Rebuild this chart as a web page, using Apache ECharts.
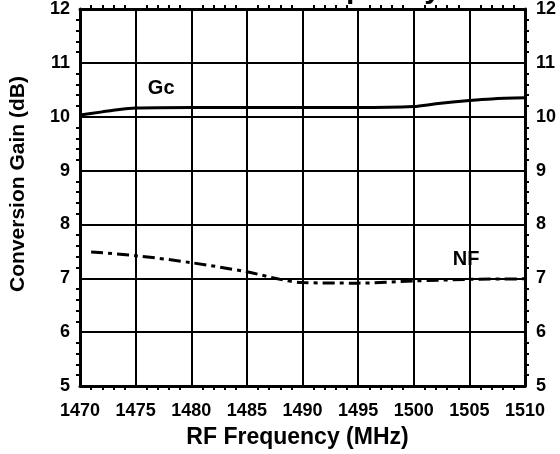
<!DOCTYPE html>
<html>
<head>
<meta charset="utf-8">
<script src="https://cdn.jsdelivr.net/npm/echarts@6/dist/echarts.min.js"></script>
<style>
  html, body { margin: 0; padding: 0; background: #fff; }
  #chart { width: 560px; height: 454px; }
</style>
</head>
<body>
<div id="chart"></div>
<script>
  // values
  const gcFreq = [1470, 1472, 1473, 1475, 1480, 1485, 1490, 1495, 1500, 1502, 1505, 1507, 1510]
  const gcValues = [10.03, 10.09, 10.12, 10.16, 10.17, 10.17, 10.17, 10.17, 10.19, 10.24, 10.30, 10.33, 10.35]
  const nfFreq = [1471, 1475, 1480, 1485, 1488, 1490, 1495, 1500, 1505, 1510]
  const nfValues = [7.49, 7.42, 7.29, 7.12, 6.98, 6.92, 6.91, 6.95, 6.98, 6.99]
  const titleText = "Gc and NF vs. RF Frequency"
  const xName = "RF Frequency (MHz)"
  const yName = "Conversion Gain (dB)"

  const font = "Liberation Sans, Arial, sans-serif"

  function pairs(xs, ys) {
    return xs.map((x, i) => [x, ys[i]])
  }

  const xAxisBase = {
    type: "value",
    min: 1470,
    max: 1510,
    interval: 5,
    axisLine: { show: true, onZero: false, lineStyle: { color: "#000", width: 3 } },
    axisTick: { show: false },
    minorTick: { show: true, splitNumber: 5, length: 4, lineStyle: { color: "#000", width: 2 } },
  }
  const yAxisBase = {
    type: "value",
    min: 5,
    max: 12,
    interval: 1,
    axisLine: { show: true, onZero: false, lineStyle: { color: "#000", width: 3 } },
    axisTick: { show: false },
    minorTick: { show: true, splitNumber: 5, length: 4, lineStyle: { color: "#000", width: 2 } },
  }
  const labelStyle = { color: "#000", fontFamily: font, fontWeight: "bold", fontSize: 18 }

  // text tag pinned to a data coordinate
  function tag(text, coord) {
    return {
      symbol: "circle",
      symbolSize: 2,
      itemStyle: { color: "transparent" },
      label: {
        show: true,
        position: "inside",
        formatter: text,
        color: "#000",
        fontFamily: font,
        fontWeight: "bold",
        fontSize: 20,
      },
      data: [{ coord: coord }],
    }
  }

  const chart = echarts.init(document.getElementById("chart"))
  chart.setOption({
    backgroundColor: "#fff",
    animation: false,
    grid: { left: 80, right: 35, top: 9, bottom: 62 },
    xAxis: [
      Object.assign({}, xAxisBase, {
        position: "bottom",
        name: xName,
        nameLocation: "middle",
        nameGap: 40,
        nameTextStyle: { color: "#000", fontFamily: font, fontWeight: "bold", fontSize: 23, padding: [0, 10, 0, 0] },
        axisLabel: Object.assign({ margin: 16, formatter: (v) => String(v) }, labelStyle),
        splitLine: { show: true, lineStyle: { color: "#000", width: 2 } },
      }),
      Object.assign({}, xAxisBase, {
        position: "top",
        axisLabel: { show: false },
        splitLine: { show: false },
      }),
    ],
    yAxis: [
      Object.assign({}, yAxisBase, {
        position: "left",
        axisLabel: Object.assign({ margin: 10 }, labelStyle),
        splitLine: { show: true, lineStyle: { color: "#000", width: 2 } },
      }),
      Object.assign({}, yAxisBase, {
        position: "right",
        axisLabel: Object.assign({ margin: 11 }, labelStyle),
        splitLine: { show: false },
      }),
    ],
    graphic: [
      {
        type: "text",
        x: 18,
        y: 184,
        rotation: Math.PI / 2,
        style: {
          text: yName,
          font: "bold 21px " + font,
          fill: "#000",
          textAlign: "center",
          textVerticalAlign: "middle",
        },
      },
      {
        type: "text",
        x: 441,
        y: 5,
        style: {
          text: titleText,
          font: "bold 30px " + font,
          fill: "#000",
          textAlign: "right",
          textVerticalAlign: "bottom",
        },
      },
    ],
    series: [
      {
        name: "Gc",
        type: "line",
        data: pairs(gcFreq, gcValues),
        smooth: 0.3,
        symbol: "none",
        lineStyle: { color: "#000", width: 3 },
        markPoint: tag("Gc", [1477.3, 10.52]),
        z: 5,
      },
      {
        name: "NF",
        type: "line",
        data: pairs(nfFreq, nfValues),
        smooth: 0.3,
        symbol: "none",
        lineStyle: { color: "#000", width: 3, type: [12, 5, 4, 5] },
        markPoint: tag("NF", [1504.7, 7.34]),
        z: 5,
      },
    ],
  })
</script>
</body>
</html>
